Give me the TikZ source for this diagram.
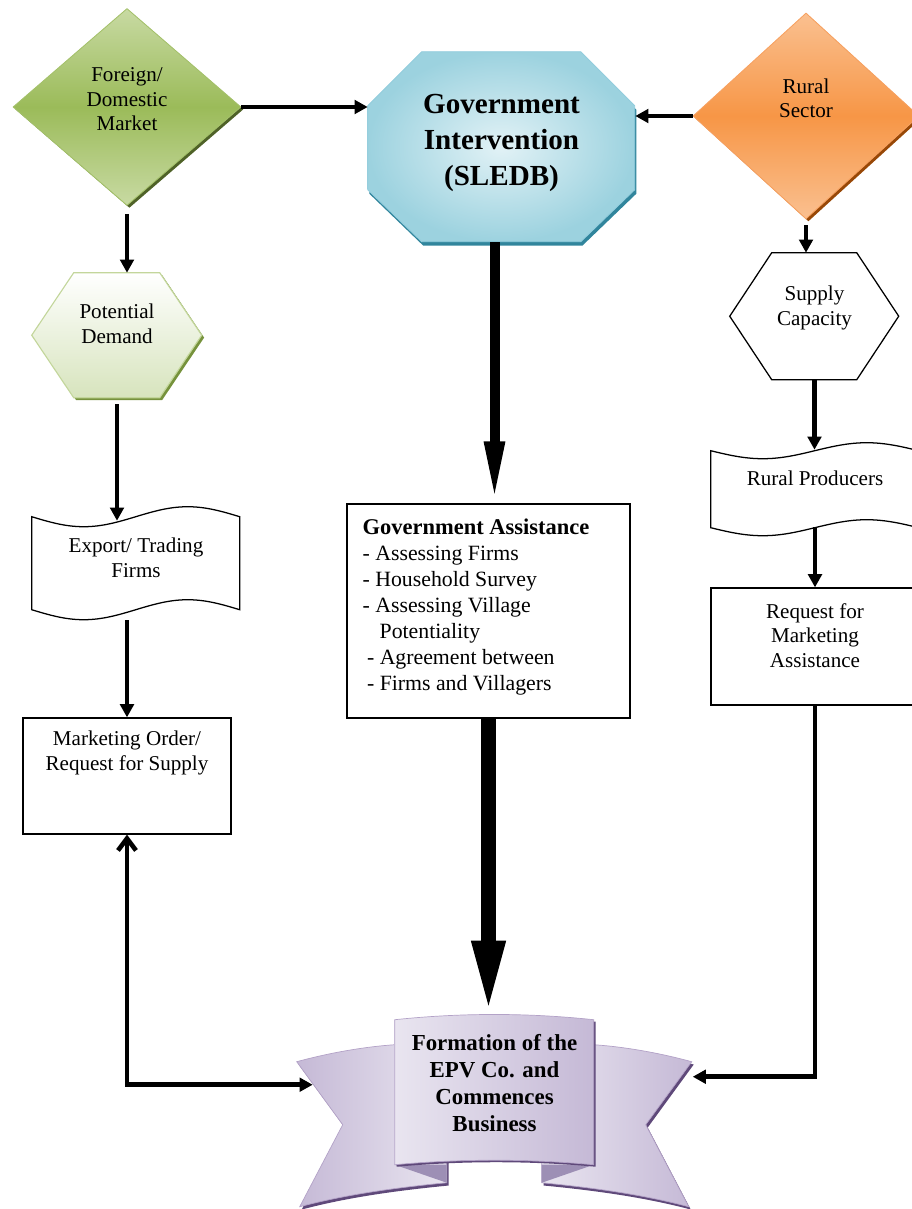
\documentclass[tikz,border=0pt]{standalone}
\usepackage{fontspec}
\setmainfont{Liberation Serif}
\usepackage{tikz}
\usetikzlibrary{arrows.meta,positioning,calc,backgrounds,shapes.geometric,shadows}

\definecolor{mktlight}{HTML}{C8DAA3}
\definecolor{mktmid}{HTML}{9BBB59}
\definecolor{mktedge}{HTML}{A4C16A}
\definecolor{mktdark}{HTML}{4F6228}
\definecolor{rurlight}{HTML}{FAC090}
\definecolor{rurmid}{HTML}{F79646}
\definecolor{ruredge}{HTML}{F7A160}
\definecolor{rurdark}{HTML}{984807}
\definecolor{govlight}{HTML}{E2F2F6}
\definecolor{govmid}{HTML}{9CD2DF}
\definecolor{govedge}{HTML}{93CDDD}
\definecolor{govdark}{HTML}{31859C}
\definecolor{pdmid}{HTML}{D7E4BD}
\definecolor{pdedge}{HTML}{C3D69B}
\definecolor{pddark}{HTML}{76923C}
\definecolor{ribbonlight}{HTML}{E9E5F0}
\definecolor{ribbonmid}{HTML}{C5B9D6}
\definecolor{ribbonedge}{HTML}{B3A2C7}
\definecolor{ribbondark}{HTML}{5F497A}
\definecolor{ribbonfold}{HTML}{9D8FB5}

\begin{document}
\begin{tikzpicture}[
  x=0.25mm, y=-0.25mm,
  txt/.style={align=center,inner sep=0pt,font=\fontsize{15}{17.5}\selectfont},
  btxt/.style={align=center,inner sep=0pt,font=\fontsize{16.3}{19.2}\selectfont\bfseries},
  govtxt/.style={align=center,inner sep=0pt,font=\fontsize{20.7}{25.6}\selectfont\bfseries},
  listtxt/.style={align=left,inner sep=0pt,font=\fontsize{15.5}{18.5}\selectfont},
  ghost/.style={rectangle,inner sep=0pt},
  box/.style={rectangle,draw,line width=0.9pt,inner sep=0pt,minimum width=52mm},
  market/.style={diamond,inner sep=0pt,draw=mktedge,line width=0.6pt,
    top color=mktlight,bottom color=mktlight,middle color=mktmid,
    drop shadow={shadow xshift=0.6mm,shadow yshift=-0.6mm,fill=mktdark,opacity=1}},
  rural/.style={diamond,inner sep=0pt,draw=ruredge,line width=0.6pt,
    top color=rurlight,bottom color=rurlight,middle color=rurmid,
    drop shadow={shadow xshift=0.6mm,shadow yshift=-0.6mm,fill=rurdark,opacity=1}},
  govshape/.style={draw=govedge,line width=0.6pt,inner color=govlight,outer color=govmid,
    drop shadow={shadow xshift=0.4mm,shadow yshift=-1mm,fill=govdark,opacity=1}},
  demand/.style={draw=pdedge,line width=0.8pt,top color=white,bottom color=pdmid,
    drop shadow={shadow xshift=0.6mm,shadow yshift=-0.6mm,fill=pddark,opacity=1}},
  plain/.style={draw,line width=0.9pt,fill=white},
  wing/.style={draw=ribbonedge,line width=0.5pt,
    drop shadow={shadow xshift=0.5mm,shadow yshift=-0.7mm,fill=ribbondark,opacity=1}},
  panel/.style={draw=ribbonedge,line width=0.5pt,left color=ribbonlight,right color=ribbonmid,
    drop shadow={shadow xshift=0.5mm,shadow yshift=-0.5mm,fill=ribbondark,opacity=1}},
  ar/.style={-{Triangle[length=3.3mm,width=3.4mm]},line width=1.15mm},
  bigar/.style={-{Triangle[length=15.5mm,width=4.6mm]},line width=2.5mm},
  hugear/.style={-{Triangle[length=18.5mm,width=7.5mm]},line width=3.7mm},
  backar/.style={{Straight Barb[length=3mm,width=4.5mm]}-{Triangle[length=3.3mm,width=3.4mm]},line width=1.15mm}
]
\useasboundingbox (0,0) rectangle (911,1209);

% top row
\node[market,minimum width=57mm,minimum height=49.25mm,
      label={[txt,yshift=1.9mm]center:{Foreign/\\Domestic\\Market}}] (mkt) at (127,107) {};
\node[ghost,minimum width=66.75mm,minimum height=47.5mm,
      label={[govtxt,yshift=1mm]center:{Government\\Intervention\\(SLEDB)}}] (gov) at (501.5,147) {};
\node[rural,minimum width=56.5mm,minimum height=51.5mm,
      label={[txt,yshift=4.4mm]center:{Rural\\Sector}}] (rur) at (806,116) {};

% left column
\node[ghost,minimum width=42.5mm,minimum height=31.25mm,
      label={[txt,yshift=2.9mm]center:{Potential\\Demand}}] (pd) at (117,335.5) {};
\node[ghost,minimum width=52mm,minimum height=28.25mm,
      label={[txt,yshift=1.5mm]center:{Export/ Trading\\Firms}}] (exp) at (136,563.5) {};
\node[box,minimum height=29mm,
      label={[txt,anchor=north,yshift=-3.4mm]north:{Marketing Order/\\Request for Supply}}] (mo) at (127,776) {};

% centre column
\node[box,minimum width=70.75mm,minimum height=53.5mm,
      label={[listtxt,anchor=north west,xshift=4mm,yshift=-3.9mm]north west:{{\fontsize{16}{18.5}\selectfont\bfseries Government Assistance}\\- Assessing Firms\\- Household Survey\\- Assessing Village\\\hspace*{4.25mm}Potentiality\\\hspace*{1.1mm}- Agreement between\\\hspace*{1.1mm}- Firms and Villagers}}] (ga) at (488.5,611) {};
\node[ghost,minimum width=49.75mm,minimum height=36.25mm,
      label={[btxt,yshift=2.3mm]center:{Formation of the\\EPV Co. and\\Commences\\Business}}] (fm) at (494.5,1092.5) {};

% right column
\node[ghost,minimum width=42.25mm,minimum height=31.75mm,
      label={[txt,yshift=2.2mm]center:{Supply\\Capacity}}] (sc) at (814.5,316.5) {};
\node[ghost,minimum width=52mm,minimum height=23.25mm,
      label={[txt,yshift=2.9mm]center:{Rural Producers}}] (rp) at (815,489.5) {};
\node[box,minimum height=29.25mm,
      label={[txt,anchor=north,yshift=-3.9mm]north:{Request for\\Marketing\\Assistance}}] (rq) at (815,646.5) {};

\begin{scope}[on background layer]
  \path[govshape,shift={(gov.north west)}] (54,0) -- (213,0) -- (267,54) -- (267,138)
    -- (213,190) -- (54,190) -- (0,138) -- (0,54) -- cycle;
  \path[demand,shift={(pd.north west)}] (42,0) -- (128,0) -- (170,62.5) -- (128,125)
    -- (42,125) -- (0,62.5) -- cycle;
  \path[plain,shift={(sc.north west)}] (42,0) -- (127,0) -- (169,63.5) -- (127,127)
    -- (42,127) -- (0,63.5) -- cycle;
  \path[plain,shift={(exp.north west)}] (0,10) sin (52,20) cos (104,10) sin (156,0) cos (208,10)
    -- (208,103) sin (156,93) cos (104,103) sin (52,113) cos (0,103) -- cycle;
  \path[plain,shift={(rp.north west)}] (0,8) sin (52,16) cos (104,8) sin (156,0) cos (208,8)
    -- (208,85) sin (156,77) cos (104,85) sin (52,93) cos (0,85) -- cycle;
  % ribbon
  \begin{scope}[shift={(fm.north west)}]
    \path[wing,left color=ribbonmid,right color=ribbonlight] (-98,42) .. controls (-65,33) and (-30,27) .. (0,25)
      -- (52,25) -- (52,163) .. controls (0,168) and (-50,175) .. (-95,187) -- (-52,105) -- cycle;
    \path[wing,left color=ribbonlight,right color=ribbonmid] (297,42) .. controls (264,33) and (229,27) .. (199,25)
      -- (147,25) -- (147,163) .. controls (199,168) and (249,175) .. (294,187) -- (251,105) -- cycle;
    \fill[ribbonfold] (0,145) -- (52,145) -- (52,163) -- cycle;
    \fill[ribbonfold] (199,145) -- (147,145) -- (147,163) -- cycle;
    \path[panel] (0,0) .. controls (66,-7) and (133,-7) .. (199,0) -- (199,145)
      .. controls (133,139) and (66,139) .. (0,145) -- cycle;
    \coordinate (fm-l) at (-82,65);
    \coordinate (fm-r) at (298,57);
  \end{scope}
\end{scope}

\draw[ar] (mkt.east) -- (mkt.east -| gov.west);
\draw[ar] (rur.west) -- (rur.west -| gov.east);
\draw[ar] ([yshift=-2mm]mkt.south) -- (mkt.south |- pd.north);
\draw[ar] ([yshift=-1.5mm]pd.south) -- ([yshift=-3.5mm]pd.south |- exp.north);
\draw[ar] (mo.north |- exp.south) -- (mo.north);
\draw[ar] ([yshift=-1.5mm]rur.south) -- (rur.south |- sc.north);
\draw[ar] (sc.south) -- ([yshift=-1.75mm]sc.south |- rp.north);
\draw[ar] ([yshift=2.25mm]rq.north |- rp.south) -- (rq.north);
\draw[bigar] ([xshift=-1.75mm]gov.south) -- ([xshift=-1.75mm]gov.south |- ga.north);
\draw[hugear] (ga.south) -- ([yshift=1.25mm]ga.south |- fm.north);
\draw[ar] (rq.south) |- (fm-r);
\draw[backar] (mo.south) |- (fm-l);
\end{tikzpicture}
\end{document}
